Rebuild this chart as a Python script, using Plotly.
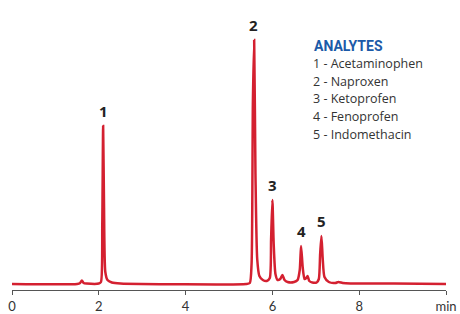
import plotly.graph_objects as go

# Chromatogram trace (time in min, signal in arbitrary units above baseline)
time_min = [0.0, 1.50, 1.57, 1.61, 1.65, 1.72, 2.00, 2.05, 2.08, 2.10, 2.12, 2.15, 2.20, 2.30, 2.50,
             5.40, 5.48, 5.52, 5.55, 5.58, 5.61, 5.65, 5.70, 5.78, 5.87, 5.94, 5.97, 6.00, 6.03, 6.07,
             6.12, 6.18, 6.23, 6.28, 6.35, 6.50, 6.58, 6.63, 6.66, 6.70, 6.74, 6.78, 6.81, 6.85, 6.92,
             7.02, 7.07, 7.10, 7.13, 7.16, 7.20, 7.30, 7.45, 7.52, 7.62, 7.80, 8.30, 8.80, 10.0]
signal = [0.0, 0.0, 1.0, 3.5, 1.0, 0.5, 0.5, 2.0, 60.0, 158.0, 80.0, 12.0, 4.0, 1.5, 0.5,
          0.0, 1.0, 20.0, 180.0, 244.0, 110.0, 25.0, 8.0, 4.0, 3.0, 6.0, 45.0, 84.0, 40.0, 10.0,
          4.0, 5.0, 9.0, 4.0, 2.0, 2.0, 4.0, 14.0, 38.0, 16.0, 5.0, 6.0, 8.0, 3.0, 1.5,
          1.5, 5.0, 30.0, 48.0, 25.0, 7.0, 2.0, 1.0, 2.0, 1.0, 0.5, 0.5, 0.5, 0.0]

peak_ids = ["1", "2", "3", "4", "5"]
peak_times = [2.10, 5.57, 6.00, 6.66, 7.13]
peak_heights = [158.0, 244.0, 84.0, 38.0, 48.0]

analyte_title = "ANALYTES"
analytes = ["1 - Acetaminophen", "2 - Naproxen", "3 - Ketoprofen", "4 - Fenoprofen", "5 - Indomethacin"]

tick_vals = [0, 2, 4, 6, 8, 10]
tick_text = ["0", "2", "4", "6", "8", "min"]

W, H = 460, 314
ML, MR, MT, MB = 12, 14, 30, 24
PW, PH = W - ML - MR, H - MT - MB


def px_to_paper(xp, yp):
    return (xp - ML) / PW, (H - MB - yp) / PH


fig = go.Figure()
fig.add_trace(go.Scatter(x=time_min, y=signal, mode="lines",
                         line=dict(color="#d42030", width=2.5, shape="spline", smoothing=0.6),
                         hoverinfo="skip"))

for pid, pt, ph in zip(peak_ids, peak_times, peak_heights):
    fig.add_annotation(x=pt, y=ph, text="<b>" + pid + "</b>", showarrow=False,
                       xanchor="center", yanchor="bottom", yshift=3,
                       font=dict(family="Open Sans", size=15, color="#222222"))

xa, ya = px_to_paper(312, 46)
fig.add_annotation(xref="paper", yref="paper", x=xa, y=ya,
                   text="<b>" + analyte_title + "</b>", showarrow=False,
                   xanchor="left", yanchor="middle",
                   font=dict(family="Roboto", size=14, color="#1b5aa8"))
for i, name in enumerate(analytes):
    xa, ya = px_to_paper(311, 64 + i * 17.5)
    fig.add_annotation(xref="paper", yref="paper", x=xa, y=ya,
                       text=name, showarrow=False, xanchor="left", yanchor="middle",
                       font=dict(family="Open Sans", size=12.5, color="#333333"))

fig.update_layout(
    width=W, height=H,
    margin=dict(l=ML, r=MR, t=MT, b=MB, autoexpand=False),
    paper_bgcolor="white", plot_bgcolor="white",
    showlegend=False,
    xaxis=dict(range=[0, 10], tickvals=tick_vals, ticktext=tick_text, automargin=False,
               showgrid=False, zeroline=False, showline=True, linecolor="#555555", linewidth=1,
               ticks="outside", ticklen=4, tickcolor="#555555", ticklabeloverflow="allow",
               tickfont=dict(family="Lato", size=13, color="#333333")),
    yaxis=dict(range=[-6, 254], visible=False, showgrid=False, zeroline=False, automargin=False),
)

fig.write_html("out.html", config={"displayModeBar": False},
               post_script="document.body.style.margin='0';document.body.style.overflow='hidden';")
